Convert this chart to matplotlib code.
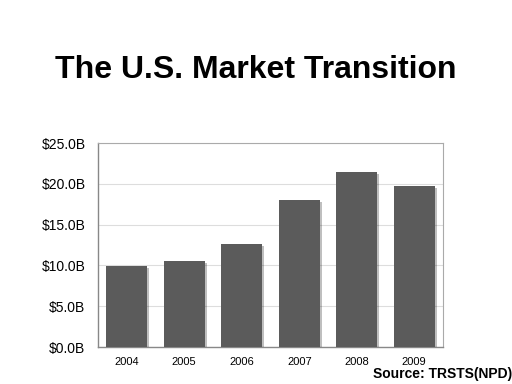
import matplotlib
matplotlib.use("Agg")
import matplotlib.pyplot as plt
import matplotlib.patheffects as pe

# Chart data (US market, billions of dollars)
years = ["2004", "2005", "2006", "2007", "2008", "2009"]
revenue = [9.9, 10.5, 12.6, 18.0, 21.5, 19.7]
y_ticks = [0, 5, 10, 15, 20, 25]
y_labels = ["$0.0B", "$5.0B", "$10.0B", "$15.0B", "$20.0B", "$25.0B"]

fig = plt.figure(figsize=(5.12, 3.84), dpi=100)
ax = fig.add_axes([98 / 512, 1 - 347 / 384, 345 / 512, 204 / 384])

bars = ax.bar(range(len(years)), revenue, width=0.71, color="#5b5b5b", zorder=3)
for b in bars:
    b.set_path_effects([pe.SimplePatchShadow(offset=(1.5, -1.5), shadow_rgbFace="#000000", alpha=0.25),
                        pe.Normal()])

ax.set_xlim(-0.5, len(years) - 0.5)
ax.set_ylim(0, 25)
ax.set_yticks(y_ticks)
ax.set_yticklabels(y_labels, fontsize=10, family="Liberation Sans")
ax.set_xticks(range(len(years)))
ax.set_xticklabels(years, fontsize=8, family="Liberation Sans")
ax.tick_params(length=0, pad=7)
ax.tick_params(axis="y", pad=9)
ax.grid(axis="y", color="#dddddd", linewidth=0.8, zorder=0)
for side in ["left", "bottom"]:
    ax.spines[side].set_color("#888888")
    ax.spines[side].set_linewidth(1.0)
for side in ["top", "right"]:
    ax.spines[side].set_color("#aaaaaa")
    ax.spines[side].set_linewidth(0.8)

fig.text(55 / 512, 1 - 70 / 384, "The U.S. Market Transition", fontsize=23, fontweight="bold",
         family="Liberation Sans", ha="left", va="center")
fig.text(512 / 512, 1 - 374 / 384, "Source: TRSTS(NPD)", fontsize=10, fontweight="bold",
         family="Liberation Sans", ha="right", va="center")

fig.savefig("out.png", dpi=100)
